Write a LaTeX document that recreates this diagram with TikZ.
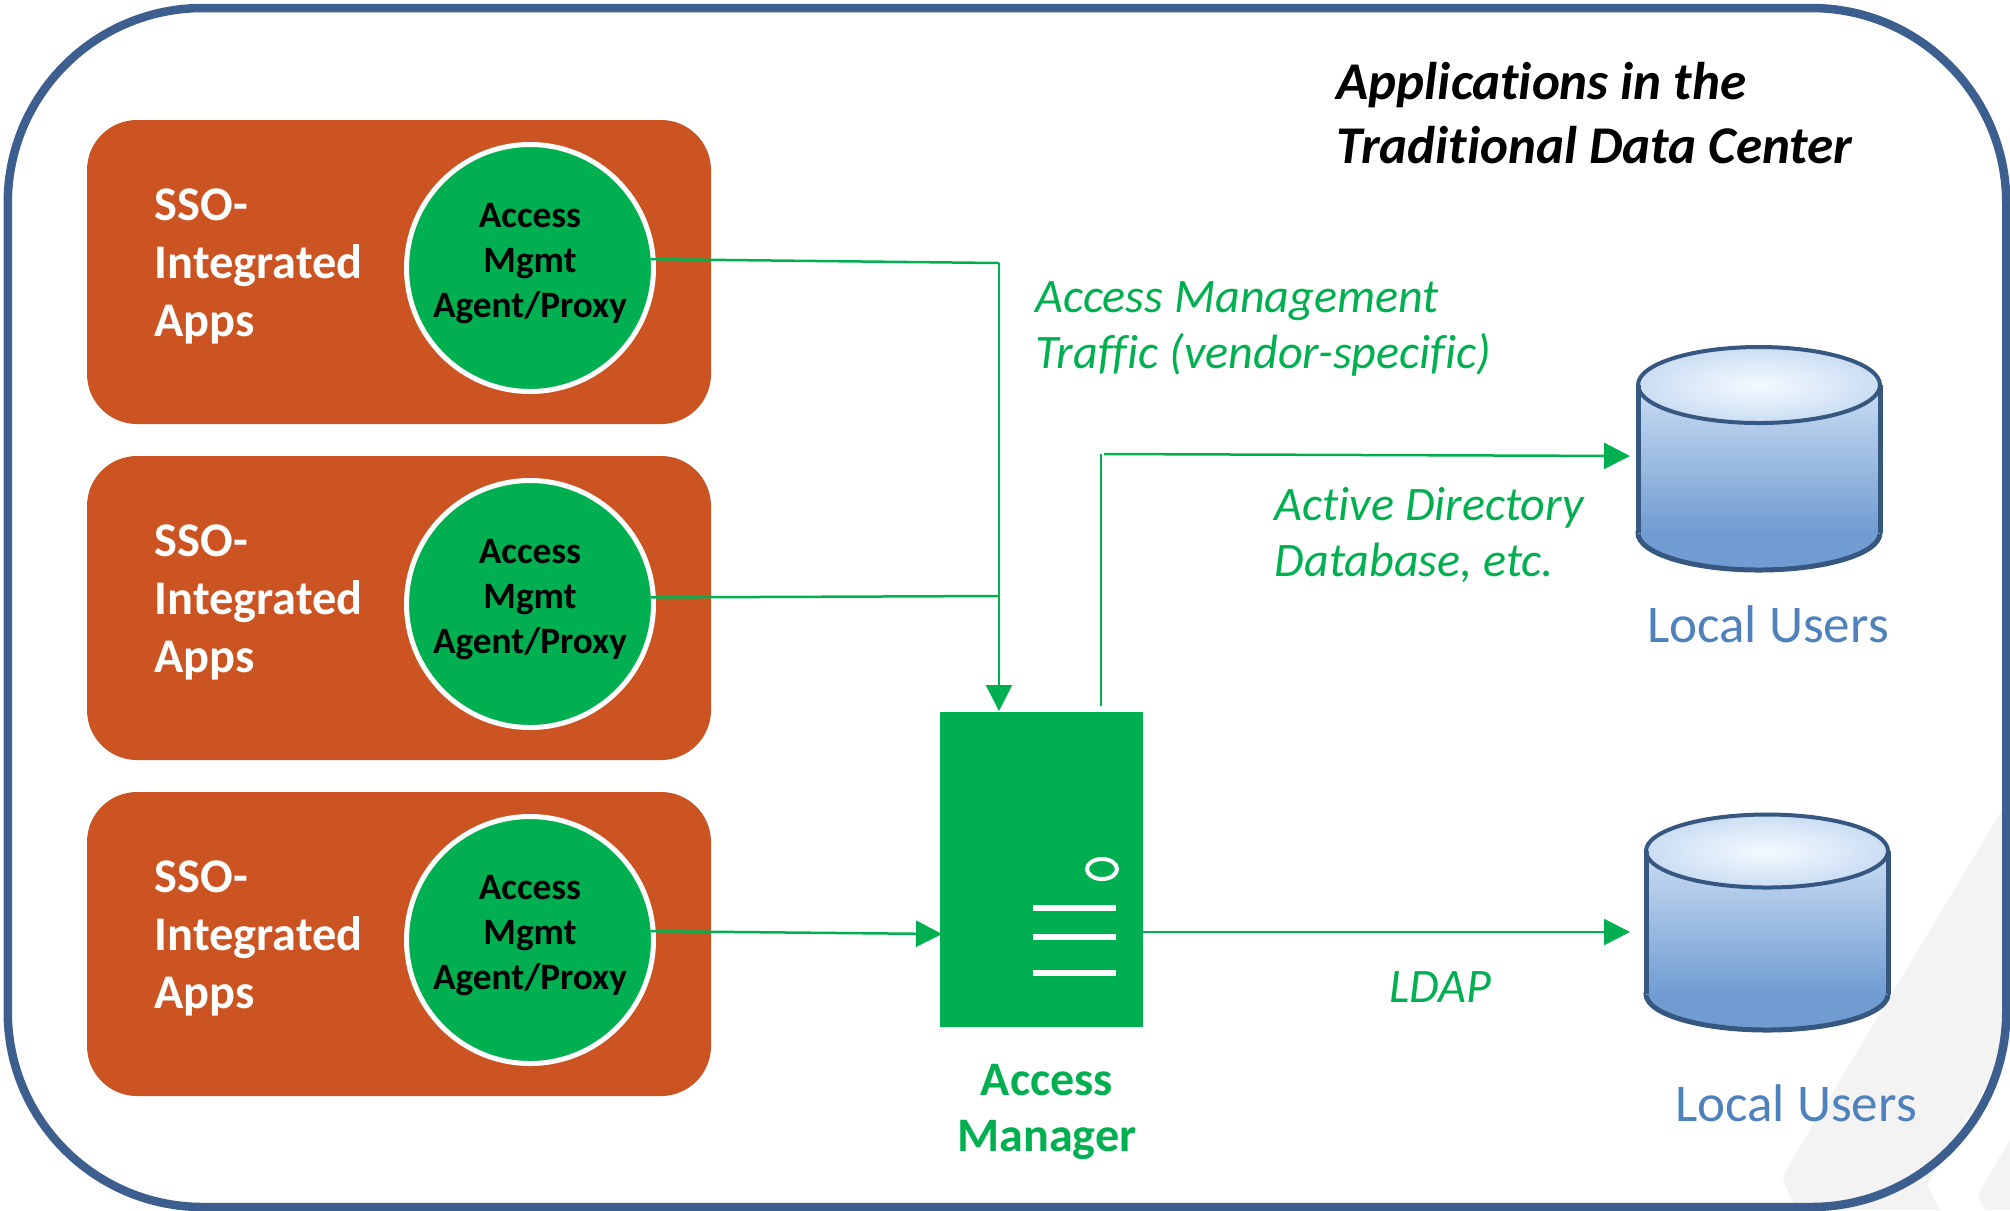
\documentclass[tikz,border=0pt]{standalone}
\usepackage{fontspec}
\setmainfont[Ligatures=NoCommon]{Carlito}
\usetikzlibrary{arrows.meta,shapes.geometric}
\definecolor{frameblue}{HTML}{3C5F8F}
\definecolor{brick}{HTML}{CB5422}
\definecolor{msgreen}{HTML}{00B050}
\definecolor{userblue}{HTML}{4F81BD}
\definecolor{dbline}{HTML}{36577F}
\definecolor{dbtop}{HTML}{F4FAFF}
\definecolor{dbmid}{HTML}{CBDDF3}
\definecolor{dbbot}{HTML}{709CD1}
\definecolor{markgray}{HTML}{F3F3F3}

\begin{document}
\begin{tikzpicture}[x=0.1mm,y=-0.1mm]
    \tikzset{appbox/.style = {shape=rectangle,fill=brick,rounded corners=5mm,minimum width=62.4mm,minimum height=30.4mm,inner sep=0pt}}
    \tikzset{agent/.style = {shape=circle,fill=msgreen,draw=white,line width=0.5mm,minimum size=24.7mm,inner sep=0pt}}
    \tikzset{agenttext/.style = {align=center,inner sep=0pt,font=\fontsize{10.6pt}{12.8pt}\selectfont\bfseries}}
    \tikzset{apptext/.style = {anchor=west,align=left,inner sep=0pt,text=white,font=\fontsize{13.75pt}{16.5pt}\selectfont\bfseries}}
    \tikzset{flow/.style = {draw=msgreen,line width=0.25mm,-{Triangle[length=2.6mm,width=2.6mm]}}}
    \tikzset{plainflow/.style = {draw=msgreen,line width=0.25mm}}
    \tikzset{flowtext/.style = {anchor=west,align=left,inner sep=0pt,text=msgreen,font=\fontsize{13.7pt}{16pt}\selectfont\itshape}}
    \tikzset{dbbase/.style = {shape=ellipse,minimum width=24.2mm,inner sep=0pt,outer sep=0pt,draw=dbline,line width=0.5mm,fill=dbbot}}
    \tikzset{dbbody/.style = {shape=rectangle,minimum width=24.2mm,inner sep=0pt,outer sep=0pt,top color=dbmid,bottom color=dbbot}}
    \tikzset{dbside/.style = {draw=dbline,line width=0.5mm}}
    \tikzset{dbcap/.style = {shape=ellipse,minimum width=24.2mm,inner sep=0pt,outer sep=0pt,draw=dbline,line width=0.4mm,inner color=dbtop,outer color=dbmid}}
    \tikzset{usertext/.style = {text=userblue,font=\fontsize{15.1pt}{17pt}\selectfont}}
    \useasboundingbox (0,0) rectangle (2010,1210);
    % watermark
    \fill[markgray] (2003,808) -- (1785,1172) -- (1783,1180) -- (1797,1210) -- (1940,1210) -- (1927,1185) -- (2010,1046) -- (2010,808) -- cycle;
    \fill[markgray] (2010,1140) -- (1980,1190) -- (1978,1197) -- (1986,1210) -- (2010,1210) -- cycle;
    % frame
    \node[draw=frameblue,line width=0.85mm,rounded corners=19.5mm,minimum width=199.85mm,minimum height=119.9mm,inner sep=0pt] (frame) at (1007,607.5) {};
    \node[anchor=west,align=left,inner sep=0pt,font=\fontsize{15.1pt}{18.2pt}\selectfont\bfseries\itshape] (title) at (1336,113) {Applications in the\\Traditional Data Center};
    % apps
    \node[appbox] (app1) at (399,272) {};
    \node[appbox] (app2) at (399,608) {};
    \node[appbox] (app3) at (399,944) {};
    \node[apptext] (txt1) at (154,266) {SSO-\\Integrated\\Apps};
    \node[apptext] (txt2) at (154,602) {SSO-\\Integrated\\Apps};
    \node[apptext] (txt3) at (154,938) {SSO-\\Integrated\\Apps};
    \node[agent] (agent1) at (530,268) {};
    \node[agent] (agent2) at (530,604) {};
    \node[agent] (agent3) at (530,940) {};
    \node[agenttext] (agtxt1) at (530,264) {Access\\Mgmt\\Agent/Proxy};
    \node[agenttext] (agtxt2) at (530,600) {Access\\Mgmt\\Agent/Proxy};
    \node[agenttext] (agtxt3) at (530,936) {Access\\Mgmt\\Agent/Proxy};
    % server
    \node[shape=rectangle,fill=msgreen,minimum width=20.3mm,minimum height=31.5mm,inner sep=0pt,outer sep=0pt] (server) at (1041.5,869.5) {};
    \node[shape=ellipse,draw=white,line width=0.4mm,minimum width=3mm,minimum height=2mm,inner sep=0pt] (led) at (1102,869) {};
    \coordinate (s1a) at (1033,908); \coordinate (s1b) at (1116,908);
    \coordinate (s2a) at (1033,937); \coordinate (s2b) at (1116,937);
    \coordinate (s3a) at (1033,973); \coordinate (s3b) at (1116,973);
    \draw[white,line width=0.65mm] (s1a) -- (s1b);
    \draw[white,line width=0.65mm] (s2a) -- (s2b);
    \draw[white,line width=0.65mm] (s3a) -- (s3b);
    \node[align=center,text=msgreen,font=\fontsize{13.7pt}{16pt}\selectfont\bfseries] (srvtxt) at (1047,1112) {Access\\Manager};
    % databases
    \node[dbbase,minimum height=7.4mm] (base1) at (1759,533) {};
    \node[dbbody,minimum height=14.8mm] (db1) at (1759,459) {};
    \node[dbcap,minimum height=7.6mm] (cap1) at (1759,385) {};
    \draw[dbside] (cap1.west) -- (base1.west);
    \draw[dbside] (cap1.east) -- (base1.east);
    \node[dbbase,minimum height=7.2mm] (base2) at (1767,994) {};
    \node[dbbody,minimum height=14.3mm] (db2) at (1767,922.5) {};
    \node[dbcap,minimum height=7.3mm] (cap2) at (1767,851) {};
    \draw[dbside] (cap2.west) -- (base2.west);
    \draw[dbside] (cap2.east) -- (base2.east);
    \node[usertext] (usr1) at (1768,624) {Local Users};
    \node[usertext] (usr2) at (1796,1103) {Local Users};
    % edges
    \coordinate (bend1) at (999,263);
    \coordinate (bend2) at (999,596);
    \coordinate (top1) at (999,711);
    \coordinate (in1) at (942,934);
    \coordinate (up1) at (1101,706);
    \coordinate (up2) at (1104,454);
    \coordinate (tip1) at (1630,456);
    \coordinate (out1) at (1143,932);
    \coordinate (tip2) at (1630,932);
    \draw[plainflow,shorten <=-0.5mm] (agent1.4) -- (bend1);
    \draw[plainflow,shorten <=-0.5mm] (agent2.3) -- (bend2);
    \draw[flow] (bend1) -- (top1);
    \draw[flow,shorten <=-0.5mm] (agent3.4) -- (in1);
    \draw[plainflow] (up1) -- (up1 |- up2);
    \draw[flow] (up2) -- (tip1);
    \draw[flow] (out1) -- (tip2);
    % labels
    \node[flowtext] (lbl1) at (1035,329) {Access Management\\Traffic (vendor-specific)};
    \node[flowtext] (lbl2) at (1274,535) {Active Directory\\Database, etc.};
    \node[flowtext] (lbl3) at (1389,987) {LDAP};
\end{tikzpicture}
\end{document}
